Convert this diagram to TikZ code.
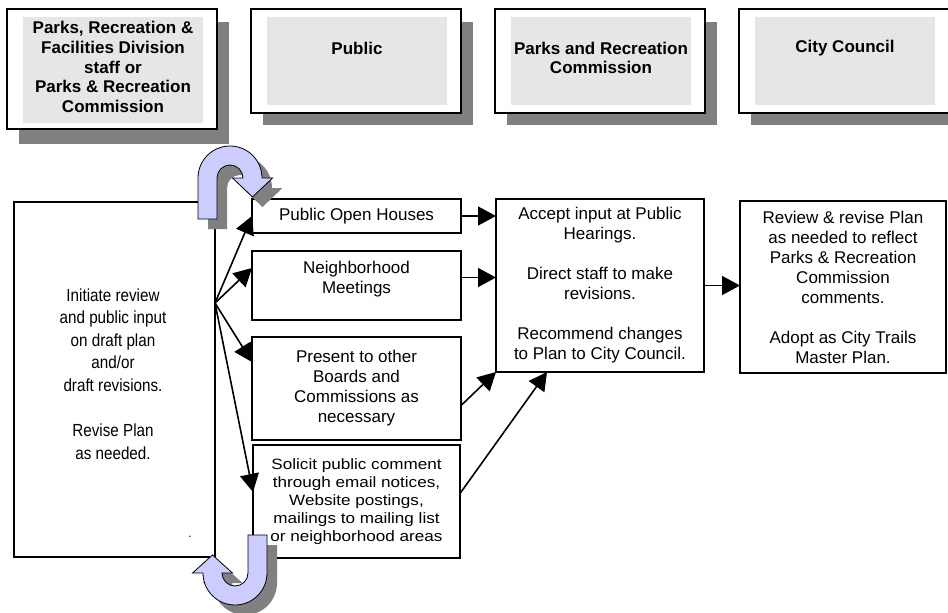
\documentclass[tikz,border=0pt]{standalone}
\usepackage{fontspec}
\setmainfont{Liberation Sans}
\newfontfamily\narrowsans[FakeStretch=0.87]{Liberation Sans}
\newfontfamily\widesans[FakeStretch=1.14]{Liberation Sans}
\usetikzlibrary{arrows.meta}

\definecolor{panelgray}{HTML}{E6E6E6}
\definecolor{shadowgray}{HTML}{808080}
\definecolor{uturnfill}{HTML}{CCCCFF}

% U-turn arrow outlines (page coordinates, y grows downward)
\newcommand\uturnTopPath{(198,219) -- (198,178) arc[start angle=180, end angle=360, radius=32]
  -- (272.5,178) -- (252.5,197) -- (232.5,178) -- (243,178)
  arc[start angle=0, end angle=-180, radius=13] -- (217,219) -- cycle}
\newcommand\uturnBottomPath{(267,535) -- (267,573) arc[start angle=0, end angle=180, radius=32]
  -- (192.5,573) -- (212.5,555) -- (232.5,573) -- (222,573)
  arc[start angle=180, end angle=0, radius=13] -- (248,535) -- cycle}

\begin{document}
\begin{tikzpicture}[x=1pt, y=-1pt,
  hdrshadow/.style={fill=shadowgray, draw=none},
  hdrbox/.style={draw=black, line width=1.6pt, fill=white, inner sep=0pt, outer sep=0pt},
  hdrpanel/.style={fill=panelgray, draw=none},
  hdrtext/.style={font=\fontsize{17}{19.75}\selectfont\bfseries, align=center, inner sep=0pt},
  stepbox/.style={draw=black, line width=1.2pt, fill=white, inner sep=0pt, outer sep=0pt,
    align=center, font=\fontsize{17}{20}\selectfont},
  bodytext/.style={align=center, inner sep=0pt, font=\fontsize{17}{20}\selectfont},
  arr/.style={-{Triangle[length=18pt, width=19pt]}, line width=1.6pt},
  uturn/.style={fill=uturnfill, draw=black, line width=0.8pt, line join=miter},
  uturnshadow/.style={fill=shadowgray, draw=none}]

\useasboundingbox (0,0) rectangle (948,613);

% ---- column headers ----
\fill[hdrshadow] (19,22) rectangle (229,144);
\fill[hdrshadow] (263,22) rectangle (473,125);
\fill[hdrshadow] (507,22) rectangle (717,125);
\fill[hdrshadow] (751,22) rectangle (961,125);

\node[hdrbox, minimum width=210pt, minimum height=120pt] (h1) at (112,69) {};
\node[hdrbox, minimum width=210pt, minimum height=104pt] (h2) at (356,61) {};
\node[hdrbox, minimum width=210pt, minimum height=104pt] (h3) at (600,61) {};
\node[hdrbox, minimum width=210pt, minimum height=104pt] (h4) at (844,61) {};

\fill[hdrpanel] (23,17) rectangle (203,123);
\fill[hdrpanel] (267,17) rectangle (447,105);
\fill[hdrpanel] (511,17) rectangle (691,105);
\fill[hdrpanel] (755,17) rectangle (935,105);

\node[hdrtext] (h1t) at (113,67) {Parks, Recreation \&\\Facilities Division\\staff or\\Parks \& Recreation\\Commission};
\node[hdrtext] (h2t) at (357,48) {Public};
\node[hdrtext] (h3t) at (601,58) {Parks and Recreation\\Commission};
\node[hdrtext] (h4t) at (845,48) {City Council};

% ---- process boxes ----
\node[draw=black, line width=2pt, fill=white, minimum width=201pt, minimum height=355pt,
      inner sep=0pt, outer sep=0pt] (main) at (114.5,379.5) {};
\node[align=center, inner sep=0pt, font=\narrowsans\fontsize{17.5}{22.6}\selectfont] (maint) at (113,374)
  {Initiate review\\and public input\\on draft plan\\and/or\\draft revisions.\\[22.6pt]Revise Plan\\as needed.};
\node[inner sep=0pt, anchor=base, font=\fontsize{12}{14}\selectfont] (stray) at (190,537) {.};

\node[stepbox, minimum width=209pt, minimum height=34pt] (open) at (356.5,216) {Public Open Houses};
\node[stepbox, minimum width=209pt, minimum height=69pt] (neigh) at (356.5,285.5) {};
\node[bodytext] (neight) at (356.5,279) {Neighborhood\\Meetings};
\node[stepbox, minimum width=209pt, minimum height=103pt] (present) at (356.5,388.5)
  {Present to other\\Boards and\\Commissions as\\necessary};
\node[stepbox, line width=2.4pt, minimum width=207pt, minimum height=113pt,
      font=\widesans\fontsize{15}{18}\selectfont] (solicit) at (356.5,501.5)
  {Solicit public comment\\through email notices,\\Website postings,\\mailings to mailing list\\or neighborhood areas};

\node[stepbox, minimum width=208pt, minimum height=173pt] (comm) at (600,285.5)
  {Accept input at Public\\Hearings.\\[20pt]Direct staff to make\\revisions.\\[20pt]Recommend changes\\to Plan to City Council.};
\node[stepbox, minimum width=206pt, minimum height=172pt] (city) at (843,287)
  {Review \& revise Plan\\as needed to reflect\\Parks \& Recreation\\Commission\\comments.\\[20pt]Adopt as City Trails\\Master Plan.};

% ---- connectors ----
\coordinate (src) at ([shift={(0,101)}]main.north east);
\draw[arr] (src) -- (open.west);
\draw[arr] (src) -- ([shift={(0,17)}]neigh.north west);
\draw[arr] (src) -- ([shift={(0,25)}]present.north west);
\draw[arr] (src) -- ([shift={(0,47)}]solicit.north west);

\draw[arr] (open.east) -- (open.east -| comm.west);
\coordinate (nbout) at ([shift={(0,-8)}]neigh.east);
\draw[arr] (nbout) -- (nbout -| comm.west);
\draw[arr] ([shift={(0,17)}]present.east) -- (comm.south west);
\draw[arr] ([shift={(0,-8)}]solicit.east) -- ([shift={(51,0)}]comm.south west);
\draw[arr] (comm.east) -- (comm.east -| city.west);

% ---- feedback U-turn arrows ----
\fill[uturnshadow, shift={(10,10)}] \uturnTopPath;
\draw[uturn] \uturnTopPath;
\fill[uturnshadow, shift={(10,10)}] \uturnBottomPath;
\draw[uturn] \uturnBottomPath;

\end{tikzpicture}
\end{document}
